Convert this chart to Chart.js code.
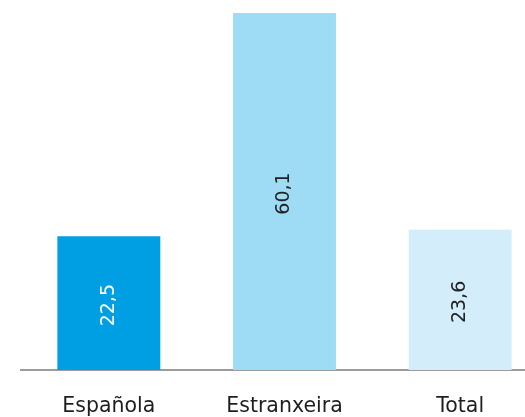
<!DOCTYPE html>
<html>
<head>
<meta charset="utf-8">
<script src="https://cdn.jsdelivr.net/npm/chart.js@4/dist/chart.umd.min.js"></script>
<style>
    html, body { margin: 0; padding: 0; overflow: hidden; background: #fff; }
</style>
</head>
<body>
<canvas id="chart" width="548" height="417"></canvas>
<script>
var categories = ["Española", "Estranxeira", "Total"];
var values = [22.5, 60.1, 23.6];
var barColors = ["#009fe3", "#9edbf4", "#d3edfb"];
var labelColors = ["#ffffff", "#222222", "#222222"];

/* etiquetas verticais dentro das barras */
var valueLabels = {
    id: 'valueLabels',
    afterDatasetsDraw: function (chart) {
        var ctx = chart.ctx;
        var meta = chart.getDatasetMeta(0);
        meta.data.forEach(function (bar, i) {
            var cy = (bar.y + bar.base) / 2 + 2;
            ctx.save();
            ctx.translate(bar.x, cy);
            ctx.rotate(-Math.PI / 2);
            ctx.font = '19px "DejaVu Sans"';
            ctx.fillStyle = labelColors[i];
            ctx.textAlign = 'center';
            ctx.textBaseline = 'middle';
            ctx.fillText(values[i].toFixed(1).replace('.', ','), 0, 0);
            ctx.restore();
        });
    }
};

var ctx = document.getElementById("chart").getContext('2d');
var chart = new Chart(ctx, {
    type: 'bar',
    data: {
        labels: categories,
        datasets: [{
            data: values,
            backgroundColor: barColors,
            borderWidth: 0,
            categoryPercentage: 1,
            barPercentage: 0.586
        }]
    },
    options: {
        responsive: false,
        animation: false,
        layout: { padding: { left: 21, right: 0, top: 0, bottom: 0 } },
        plugins: {
            legend: { display: false },
            tooltip: { enabled: false }
        },
        scales: {
            x: {
                grid: { display: false, drawTicks: false },
                border: { display: true, color: '#9c9c9c', width: 2 },
                ticks: {
                    color: '#1e1e1e',
                    padding: 24,
                    font: { family: 'DejaVu Sans', size: 20.5 }
                },
                afterFit: function (scale) { scale.height = 47; }
            },
            y: {
                display: false,
                min: 0,
                max: 62.3
            }
        }
    },
    plugins: [valueLabels]
});
</script>
</body>
</html>
